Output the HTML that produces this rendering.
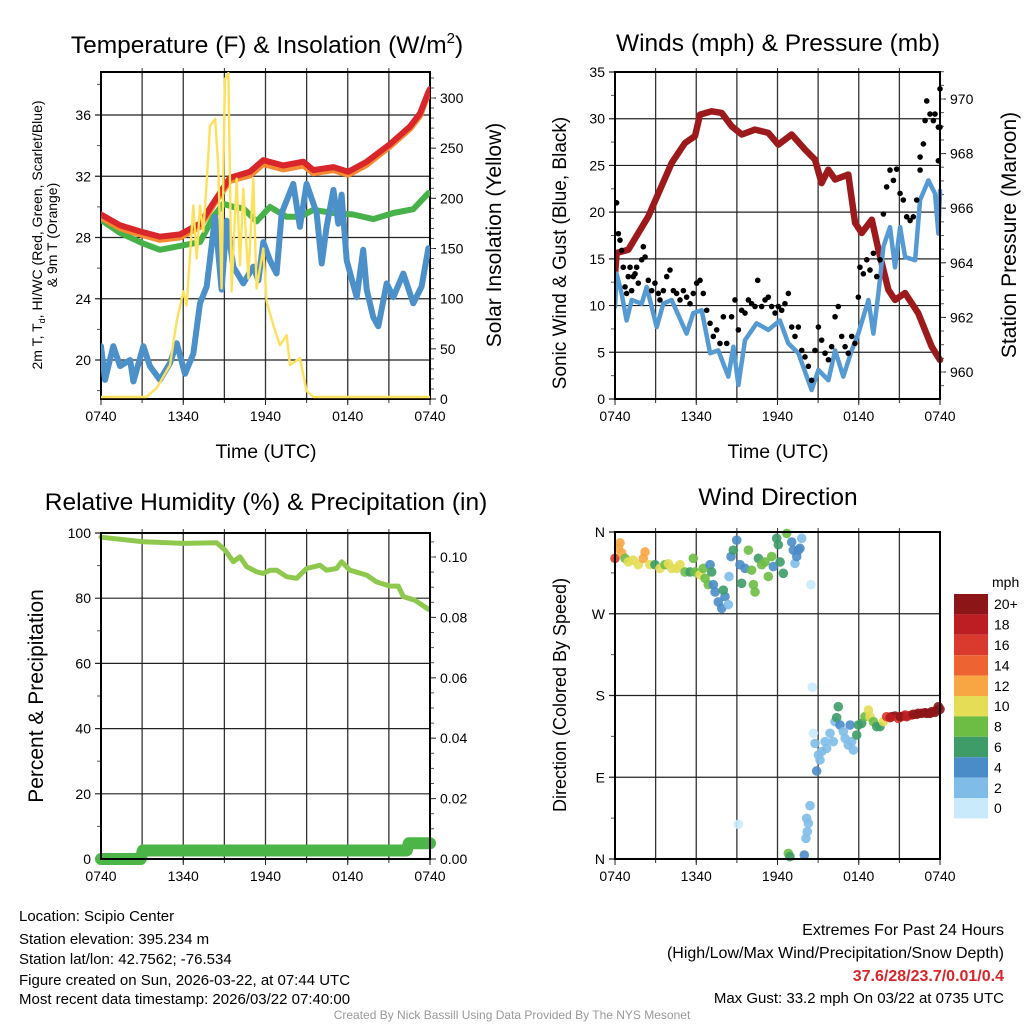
<!DOCTYPE html>
<html><head><meta charset="utf-8">
<style>
html,body{margin:0;padding:0;background:#fff;}
svg{display:block;font-family:"Liberation Sans",Arial,sans-serif;}
</style></head>
<body>
<svg id="chart" width="1024" height="1024" viewBox="0 0 1024 1024" xmlns="http://www.w3.org/2000/svg">
<rect width="1024" height="1024" fill="#fff"/>
<g id="layer"></g>
<g font-size="24.5" text-anchor="middle" fill="#000">
<text x="267" y="53">Temperature (F) &amp; Insolation (W/m<tspan font-size="15" dy="-10">2</tspan><tspan dy="10">)</tspan></text>
<text x="778" y="51">Winds (mph) &amp; Pressure (mb)</text>
<text x="266" y="510">Relative Humidity (%) &amp; Precipitation (in)</text>
<text x="778" y="505">Wind Direction</text>
</g>
<g font-size="19.5" text-anchor="middle">
<text x="266" y="458">Time (UTC)</text>
<text x="778" y="458">Time (UTC)</text>
<text transform="translate(501,235) rotate(-90)" font-size="21">Solar Insolation (Yellow)</text>
<text transform="translate(566,253) rotate(-90)" font-size="19">Sonic Wind &amp; Gust (Blue, Black)</text>
<text transform="translate(1016,235) rotate(-90)" font-size="21">Station Pressure (Maroon)</text>
<text transform="translate(43,696) rotate(-90)" font-size="21">Percent &amp; Precipitation</text>
<text transform="translate(566,695) rotate(-90)" font-size="18">Direction (Colored By Speed)</text>
</g>
<g font-size="14" text-anchor="middle">
<text transform="translate(42,235) rotate(-90)">2m T, T<tspan font-size="9" dy="3">d</tspan><tspan dy="-3">, HI/WC (Red, Green, Scarlet/Blue)</tspan></text>
<text transform="translate(57,235) rotate(-90)">&amp; 9m T (Orange)</text>
</g>
<g font-size="15" fill="#000">
<text x="19" y="921">Location: Scipio Center</text>
<text x="19" y="944">Station elevation: 395.234 m</text>
<text x="19" y="964">Station lat/lon: 42.7562; -76.534</text>
<text x="19" y="985">Figure created on Sun, 2026-03-22, at 07:44 UTC</text>
<text x="19" y="1004">Most recent data timestamp: 2026/03/22 07:40:00</text>
</g>
<g font-size="16" text-anchor="end">
<text x="1004" y="935">Extremes For Past 24 Hours</text>
<text x="1004" y="958">(High/Low/Max Wind/Precipitation/Snow Depth)</text>
<text x="1004" y="981" font-weight="bold" fill="#d7262b">37.6/28/23.7/0.01/0.4</text>
<text x="1004" y="1003" font-size="15">Max Gust: 33.2 mph On 03/22 at 0735 UTC</text>
</g>
<text x="512" y="1019" font-size="12" fill="#999" text-anchor="middle">Created By Nick Bassill Using Data Provided By The NYS Mesonet</text>
</svg>
<script>
// ---------- DATA ----------
const timeTicks=["0740","1340","1940","0140","0740"];
const tRedT=[0,1.39,2.84,4.3,5.76,7.22,8.19,9.41,10.87,11.84,13.3,14.76,15.49,16.95,18.04,19.38,21.08,22.54,23.27,23.88,24];
const tempRed=[29.5,28.8,28.4,28.05,28.2,28.9,30.25,31.9,32.3,33.05,32.7,32.95,32.4,32.6,32.3,32.95,34.1,35.25,36.1,37.5,37.7];
const tempOrange=[29.3,28.6,28.2,27.85,28.0,28.7,30.1,31.7,32.05,32.8,32.45,32.7,32.2,32.4,32.1,32.75,33.95,35.1,35.95,37.4,37.6];
const tGreen=[0,1.39,3.09,4.3,5.76,7.22,8.19,8.92,9.65,10.38,11.35,12.33,13.54,14.51,15.49,16.95,18.4,19.86,21.32,22.78,23.88];
const tempGreen=[29.15,28.3,27.6,27.2,27.45,27.7,29.35,30.2,30.0,29.9,29.05,30.0,29.35,29.35,29.8,29.6,29.5,29.2,29.6,29.85,30.9];
const tBlue=[0,0.29,0.9,1.39,2.12,2.36,3.09,3.57,4.3,5.03,5.52,6.13,6.73,7.22,7.71,8.32,8.8,9.17,9.65,10.38,11.11,11.48,11.84,12.33,12.81,13.18,14.03,14.51,15.0,15.73,16.1,16.46,16.95,17.31,17.55,17.92,18.65,19.13,19.38,19.86,20.23,20.84,21.32,22.05,22.78,23.39,23.88];
const tempBlue=[20.9,18.7,20.9,19.6,20.0,18.6,20.9,19.6,18.7,19.8,21.1,19.1,20.4,23.7,24.8,29.35,24.6,29.1,26.1,25.0,26.1,25.2,27.7,26.5,25.65,29.6,31.5,28.7,31.5,29.6,26.3,28.7,31.1,28.9,30.8,26.5,24.1,27.2,24.6,22.8,22.2,25.0,24.1,25.65,23.7,24.8,27.3];
const tSolar=[0,3.33,4.06,5.03,5.52,6.01,6.25,6.73,6.98,7.22,7.46,7.71,7.95,8.32,8.56,8.8,9.04,9.29,9.53,9.9,10.14,10.38,10.75,11.11,11.35,11.84,12.08,12.57,13.06,13.54,13.79,14.51,15.0,15.49,24];
const solar=[0,0,9,32,76,106,92,192,139,192,166,216,272,279,232,109,319,325,106,219,132,209,119,219,109,149,96,72,52,62,32,39,6,0,0];

const tPres=[0,0.12,0.98,2.46,4.19,5.17,5.91,6.28,7.14,7.88,8.62,9.36,10.34,11.32,12.06,13.05,14.03,14.77,15.26,15.75,16.25,17.23,17.73,18.22,18.96,19.45,20.19,20.68,21.42,22.4,23.39,24];
const pressure=[963.56,964.36,964.48,965.7,967.66,968.39,968.64,969.43,969.55,969.49,969.0,968.7,968.88,968.76,968.33,968.7,968.15,967.78,966.92,967.41,967.05,967.23,965.46,965.09,965.58,964.48,963.01,962.64,962.89,962.15,960.93,960.44];
const tWind=[0,0.12,0.49,0.86,1.23,1.97,2.34,3.08,3.57,4.18,5.29,5.78,6.4,7.02,7.63,8.37,8.74,9.11,9.6,10.46,11.32,12.18,12.8,13.54,14.52,15.02,15.76,16.25,16.86,17.48,17.97,18.71,19.08,19.45,19.82,20.31,20.68,21.05,21.42,22.16,22.53,23.14,23.63,23.88,24];
const wind=[9.86,13.4,11.3,8.4,10.6,10.2,12.0,7.7,10.2,10.6,7.0,9.2,9.5,4.9,5.2,2.4,5.6,1.5,6.3,8.1,7.4,8.4,5.95,4.9,0.96,3.1,2.0,5.2,2.4,5.2,7.0,10.6,7.0,11.3,16.3,18.4,14.1,18.4,15.2,14.85,21.3,23.4,22.0,17.7,22.3];
const tGust=[0.12,0.25,0.37,0.49,0.61,0.74,0.86,0.98,1.11,1.23,1.35,1.48,1.6,1.72,1.97,2.09,2.22,2.46,2.71,2.95,3.2,3.32,3.57,3.82,4.06,4.31,4.55,4.8,5.05,5.29,5.54,5.78,6.03,6.28,6.52,6.77,7.02,7.26,7.51,7.75,8.0,8.25,8.61,8.86,9.11,9.35,9.6,9.85,10.09,10.34,10.54,10.83,11.08,11.32,11.57,11.82,12.06,12.31,12.55,12.8,13.05,13.29,13.54,13.79,14.03,14.28,14.52,14.77,15.02,15.26,15.51,15.76,16.0,16.25,16.49,16.74,16.99,17.23,17.48,17.72,17.97,18.09,18.34,18.59,18.83,19.08,19.33,19.57,19.82,20.06,20.31,20.56,20.8,21.05,21.29,21.54,21.79,22.03,22.28,22.53,22.53,22.77,22.9,23.02,23.26,23.51,23.63,23.88,23.88,24.0,24.0];
const gust=[21.0,17.7,17.0,15.9,14.1,12.0,11.3,13.1,14.1,11.6,13.1,13.4,14.1,12.4,14.9,16.3,15.2,12.7,11.6,12.4,11.3,10.6,11.6,13.1,13.8,11.6,11.3,10.6,11.6,10.9,10.2,11.3,12.4,12.7,11.3,9.5,8.1,6.7,7.4,5.95,8.8,5.95,8.8,10.6,7.4,9.5,9.2,10.6,10.2,9.9,12.7,9.9,10.6,10.9,9.9,9.2,9.9,9.5,10.2,11.3,7.7,6.7,7.7,5.2,4.5,3.5,2.0,5.2,7.7,6.3,4.9,4.2,5.6,8.8,9.9,6.7,5.6,4.9,6.7,5.95,10.9,14.1,13.4,14.9,13.8,15.6,13.1,14.9,19.8,22.7,24.5,23.4,24.6,22.0,21.3,19.5,19.1,19.5,21.3,24.5,25.9,27.3,29.8,31.9,30.5,29.8,30.5,29.1,25.5,29.1,33.2];

const tRH=[0,3.09,6.01,8.44,9.04,9.65,10.14,10.62,11.35,11.84,12.33,12.81,13.54,14.27,15.0,15.97,16.46,17.19,17.55,18.16,19.38,20.1,21.08,21.69,22.05,22.9,23.88];
const rh=[98.7,97.3,96.8,97.0,94.8,91.2,92.7,89.7,88.1,87.6,88.6,88.6,86.6,86.1,89.1,90.1,88.6,89.1,91.2,88.6,87.1,85.0,83.7,83.7,80.5,79.4,76.6];
const tPrecip=[0,2.9,3.05,22.3,22.45,24];
const precip=[0,0,0.0028,0.0028,0.0052,0.0052];

const tDir=[0,0.25,0.37,0.49,0.74,0.98,1.35,1.72,2.09,2.22,2.58,2.95,3.32,3.69,3.94,4.18,4.55,4.8,5.17,5.54,5.78,5.91,6.28,6.52,6.65,6.89,7.02,7.14,7.26,7.39,7.63,7.88,8.12,8.0,8.37,8.42,8.57,8.74,8.99,9.23,9.35,9.6,9.85,10.09,10.22,10.34,10.59,10.83,11.08,11.32,11.57,11.69,11.94,12.06,12.19,12.43,12.68,13.05,13.17,13.29,13.54,13.42,13.79,13.66,14.47,14.57,14.65,14.77,15.02,15.14,14.89,15.26,15.51,15.63,15.88,16.12,16.25,16.49,16.37,16.62,16.86,16.99,17.23,17.48,17.36,17.6,17.85,17.97,18.22,18.46,18.71,18.83,19.08,19.33,19.57,19.82,20.06,20.43,20.68,20.92,21.17,21.42,21.66,21.91,22.28,22.65,23.02,23.39,23.76,23.88,24.0,9.11,14.4,14.15,14.28,14.2,14.1,12.8,12.92,13.98,20.31,21.05,21.54,22.03,22.4,22.9,23.26,23.63];
const dirDeg=[331,342,348,337,331,327,329,324,331,338,324,324,320,324,325,320,320,324,316,316,331,316,313,320,309,302,324,316,302,294,283,276,289,296,280,311,333,340,351,324,303.5,320,340,318,302,294,331,324,327,311,333,322,353,346,327,314.5,358.5,349,340,325.5,340,333,353,342,302,189,138.4,127.3,114.5,109,96.9,118.2,129.2,121.8,138.4,129.2,151.2,167.7,155.6,147.5,140.2,132.8,125.5,129.2,147.5,120,136.5,147.5,149.4,156.7,164,156.7,151.2,145.7,145.7,151.2,156.7,156.7,157.4,154.9,156.7,158.5,157.8,158.5,159.3,160.4,160.4,162.2,164,167.7,164.8,38.2,58.7,44.8,39.3,30.1,22.7,6.2,2.6,4.4,155.6,156.7,156.7,159.3,160.4,161.1,160.4,161.5];
const dirSpeed=[16,13,12,13,8,10,10,10,12,12,10,6,10,8,10,10,10,10,8,6,8,8,10,8,8,8,4,6,4,4,4,4,4,6,2,2,4,6,4,4,6,4,8,8,8,8,6,8,8,8,8,4,6,6,6,6,8,4,4,2,4,4,2,4,0,0,0,2,2,2,4,2,2,2,2,2,2,6,6,4,2,2,2,2,4,2,6,6,6,8,10,10,8,6,6,10,16,20,20,16,16,18,16,16,18,20,20,20,20,20,20,0,2,2,2,2,2,8,6,4,18,20,18,20,20,20,20,20];
const speedLabels=["0","2","4","6","8","10","12","14","16","18","20+"];
const speedColors=["#c9eafb","#7fbde8","#4a8cc8","#3e9c68","#6dbd45","#e4dd55","#f7a643","#ee6332","#da3a2e","#bd1e24","#8c1518"];

// ---------- DRAW ----------
const NS="http://www.w3.org/2000/svg";
const layer=document.getElementById('layer');
function mk(tag,parent){const e=document.createElementNS(NS,tag);(parent||layer).appendChild(e);return e;}
function lin(d0,d1,r0,r1){return v=>r0+(v-d0)*(r1-r0)/(d1-d0);}
function pathD(xs,ys,sx,sy){return xs.map((t,i)=>(i?'L':'M')+sx(t).toFixed(1)+','+sy(ys[i]).toFixed(1)).join('');}

function panelFrame(name,x0,x1,y0,y1,sx,leftTicks,sy,rightTicks,sy2,minL,minR){
  const g=mk('g');
  
  
  for(let h=3;h<24;h+=3){const l=mk('line',g);l.setAttribute('x1',sx(h));l.setAttribute('x2',sx(h));l.setAttribute('y1',y0);l.setAttribute('y2',y1);l.setAttribute('stroke','#333');l.setAttribute('stroke-width','1.3');
    const tk=mk('line',g);tk.setAttribute('x1',sx(h));tk.setAttribute('x2',sx(h));tk.setAttribute('y1',y1);tk.setAttribute('y2',y1+4);tk.setAttribute('stroke','#333');
    const tt=mk('line',g);tt.setAttribute('x1',sx(h));tt.setAttribute('x2',sx(h));tt.setAttribute('y1',y0);tt.setAttribute('y2',y0-4);tt.setAttribute('stroke','#333');}
  leftTicks.forEach(v=>{const y=sy(v);
    const l=mk('line',g);l.setAttribute('x1',x0-6);l.setAttribute('x2',x1);l.setAttribute('y1',y);l.setAttribute('y2',y);l.setAttribute('stroke','#222');l.setAttribute('stroke-width','1.2');
    const tx=mk('text',g);tx.setAttribute('x',x0-10);tx.setAttribute('y',y+5);tx.setAttribute('text-anchor','end');tx.setAttribute('font-size','14');tx.textContent=v.label;});
  (minL||[]).forEach(v=>{const y=sy(v);const l=mk('line',g);l.setAttribute('x1',x0-4);l.setAttribute('x2',x0);l.setAttribute('y1',y);l.setAttribute('y2',y);l.setAttribute('stroke','#555');});
  if(rightTicks){rightTicks.forEach(v=>{const y=sy2(v);
    const l=mk('line',g);l.setAttribute('x1',x1);l.setAttribute('x2',x1+6);l.setAttribute('y1',y);l.setAttribute('y2',y);l.setAttribute('stroke','#222');
    const tx=mk('text',g);tx.setAttribute('x',x1+10);tx.setAttribute('y',y+5);tx.setAttribute('font-size','14');tx.textContent=v.label;});
   (minR||[]).forEach(v=>{const y=sy2(v);const l=mk('line',g);l.setAttribute('x1',x1);l.setAttribute('x2',x1+4);l.setAttribute('y1',y);l.setAttribute('y2',y);l.setAttribute('stroke','#555');});}
  timeTicks.forEach((lab,i)=>{const x=sx(i*6);
    const tk=mk('line',g);tk.setAttribute('x1',x);tk.setAttribute('x2',x);tk.setAttribute('y1',y1);tk.setAttribute('y2',y1+6);tk.setAttribute('stroke','#222');
    const tx=mk('text',g);tx.setAttribute('x',x);tx.setAttribute('y',y1+22);tx.setAttribute('text-anchor','middle');tx.setAttribute('font-size','14');tx.textContent=lab;});
  return g;
}
function borders(name,x0,x1,y0,y1){const r=mk('rect');r.setAttribute('x',x0);r.setAttribute('y',y0);r.setAttribute('width',x1-x0);r.setAttribute('height',y1-y0);r.setAttribute('fill','none');r.setAttribute('stroke','#000');r.setAttribute('stroke-width','2');
  
  }
function labeled(vals,fmt){return vals.map(v=>{const o=new Number(v);o.label=fmt?fmt(v):String(v);return o;});}
function line(xs,ys,sx,sy,color,w,name){const p=mk('path');p.setAttribute('d',pathD(xs,ys,sx,sy));p.setAttribute('fill','none');p.setAttribute('stroke',color);p.setAttribute('stroke-width',w);p.setAttribute('stroke-linejoin','round');p.setAttribute('stroke-linecap','round');
  
  return p;}
function rng(a,b,s){const r=[];for(let v=a;v<=b+1e-9;v+=s)r.push(+v.toFixed(3));return r;}

// Panel 1
(function(){
 const x0=101,x1=430,y0=72,y1=399;
 const sx=lin(0,24,x0,x1), sy=lin(20,36,360,115), sy2=lin(0,300,399,98);
 const sySolar=lin(0,300,397,98);
 panelFrame('temperature',x0,x1,y0,y1,sx,labeled([20,24,28,32,36]),sy,labeled([0,50,100,150,200,250,300]),sy2,[18,22,26,30,34,38],rng(10,320,10));
 const cp=mk('clipPath');cp.setAttribute('id','c1');const cr=mk('rect',cp);cr.setAttribute('x',x0);cr.setAttribute('y',y0);cr.setAttribute('width',x1-x0);cr.setAttribute('height',y1-y0);
 borders('temperature',x0,x1,y0,y1);
 const g=mk('g');g.setAttribute('clip-path','url(#c1)');
 
 
 g.appendChild(line(tGreen,tempGreen,sx,sy,'#47b14a',6,'dewpoint-line'));
 g.appendChild(line(tBlue,tempBlue,sx,sy,'#4b90c8',6,'windchill-line'));
 g.appendChild(line(tRedT,tempOrange,sx,sy,'#f58a33',6,'temp-9m-line'));
 g.appendChild(line(tRedT,tempRed,sx,sy,'#d8262a',6,'temp-2m-line'));
 g.appendChild(line(tSolar,solar,sx,sySolar,'#fde15a',2.4,'solar-line'));
})();

// Panel 2
(function(){
 const x0=615,x1=940,y0=72,y1=399;
 const sx=lin(0,24,x0,x1), sy=lin(0,35,399,72), sy2=lin(960,970,372,99);
 panelFrame('winds',x0,x1,y0,y1,sx,labeled([0,5,10,15,20,25,30,35]),sy,labeled([960,962,964,966,968,970]),sy2,rng(2.5,32.5,5),rng(959.5,971,0.5));
 const cp=mk('clipPath');cp.setAttribute('id','c2');const cr=mk('rect',cp);cr.setAttribute('x',x0);cr.setAttribute('y',y0-4);cr.setAttribute('width',x1-x0+4);cr.setAttribute('height',y1-y0+4);
 const g=mk('g');g.setAttribute('clip-path','url(#c2)');
 
 
 g.appendChild(line(tPres,pressure,sx,sy2,'#9c1a1c',6.5,'pressure-line'));
 g.appendChild(line(tWind,wind,sx,sy,'#559ad2',4.5,'sonic-wind-line'));
 tGust.forEach((t,i)=>{const c=mk('circle',g);c.setAttribute('cx',sx(t));c.setAttribute('cy',sy(gust[i]));c.setAttribute('r','2.8');c.setAttribute('fill','#000');
  
  });
 borders('winds',x0,x1,y0,y1);
})();

// Panel 3
(function(){
 const x0=101,x1=430,y0=533,y1=859;
 const sx=lin(0,24,x0,x1), sy=lin(0,100,859,533), sy2=lin(0,0.1,859,557);
 panelFrame('humidity',x0,x1,y0,y1,sx,labeled([0,20,40,60,80,100]),sy,labeled([0,0.02,0.04,0.06,0.08,0.1],v=>v.toFixed(2)),sy2,rng(10,90,20),rng(0.005,0.105,0.005));
 const g=mk('g');
 
 
 g.appendChild(line(tRH,rh,sx,sy,'#8ec94e',5,'humidity-line'));
 g.appendChild(line(tPrecip,precip,sx,sy2,'#4bb548',12,'precip-line'));
 borders('humidity',x0,x1,y0,y1);
})();

// Panel 4
(function(){
 const x0=615,x1=940,y0=532,y1=859;
 const sx=lin(0,24,x0,x1), sy=lin(0,360,859,532);
 const dirTicks=[0,90,180,270,360].map((v,i)=>{const o=new Number(v);o.label=["N","E","S","W","N"][i];return o;});
 panelFrame('direction',x0,x1,y0,y1,sx,dirTicks,sy,null,null,[45,135,225,315]);
 const g=mk('g');
 
 
 tDir.forEach((t,i)=>{const c=mk('circle',g);c.setAttribute('cx',sx(t));c.setAttribute('cy',sy(dirDeg[i]));c.setAttribute('r','4.8');
  c.setAttribute('fill',speedColors[Math.min(10,Math.floor(dirSpeed[i]/2))]);c.setAttribute('fill-opacity','0.9');
  
  });
 borders('direction',x0,x1,y0,y1);
 const cb=mk('g');
 
 
 const bh=20.4, top=594;
 speedLabels.forEach((lab,i)=>{const k=10-i;const y=top+i*bh;
  const r=mk('rect',cb);r.setAttribute('x',954);r.setAttribute('y',y);r.setAttribute('width',34);r.setAttribute('height',bh);r.setAttribute('fill',speedColors[k]);
  
  
  const tx=mk('text',cb);tx.setAttribute('x',994);tx.setAttribute('y',y+bh/2+5);tx.setAttribute('font-size','14');tx.textContent=speedLabels[k];});
 const u=mk('text',cb);u.setAttribute('x',992);u.setAttribute('y',587);u.setAttribute('font-size','14');u.textContent='mph';
})();
</script>
</body></html>
